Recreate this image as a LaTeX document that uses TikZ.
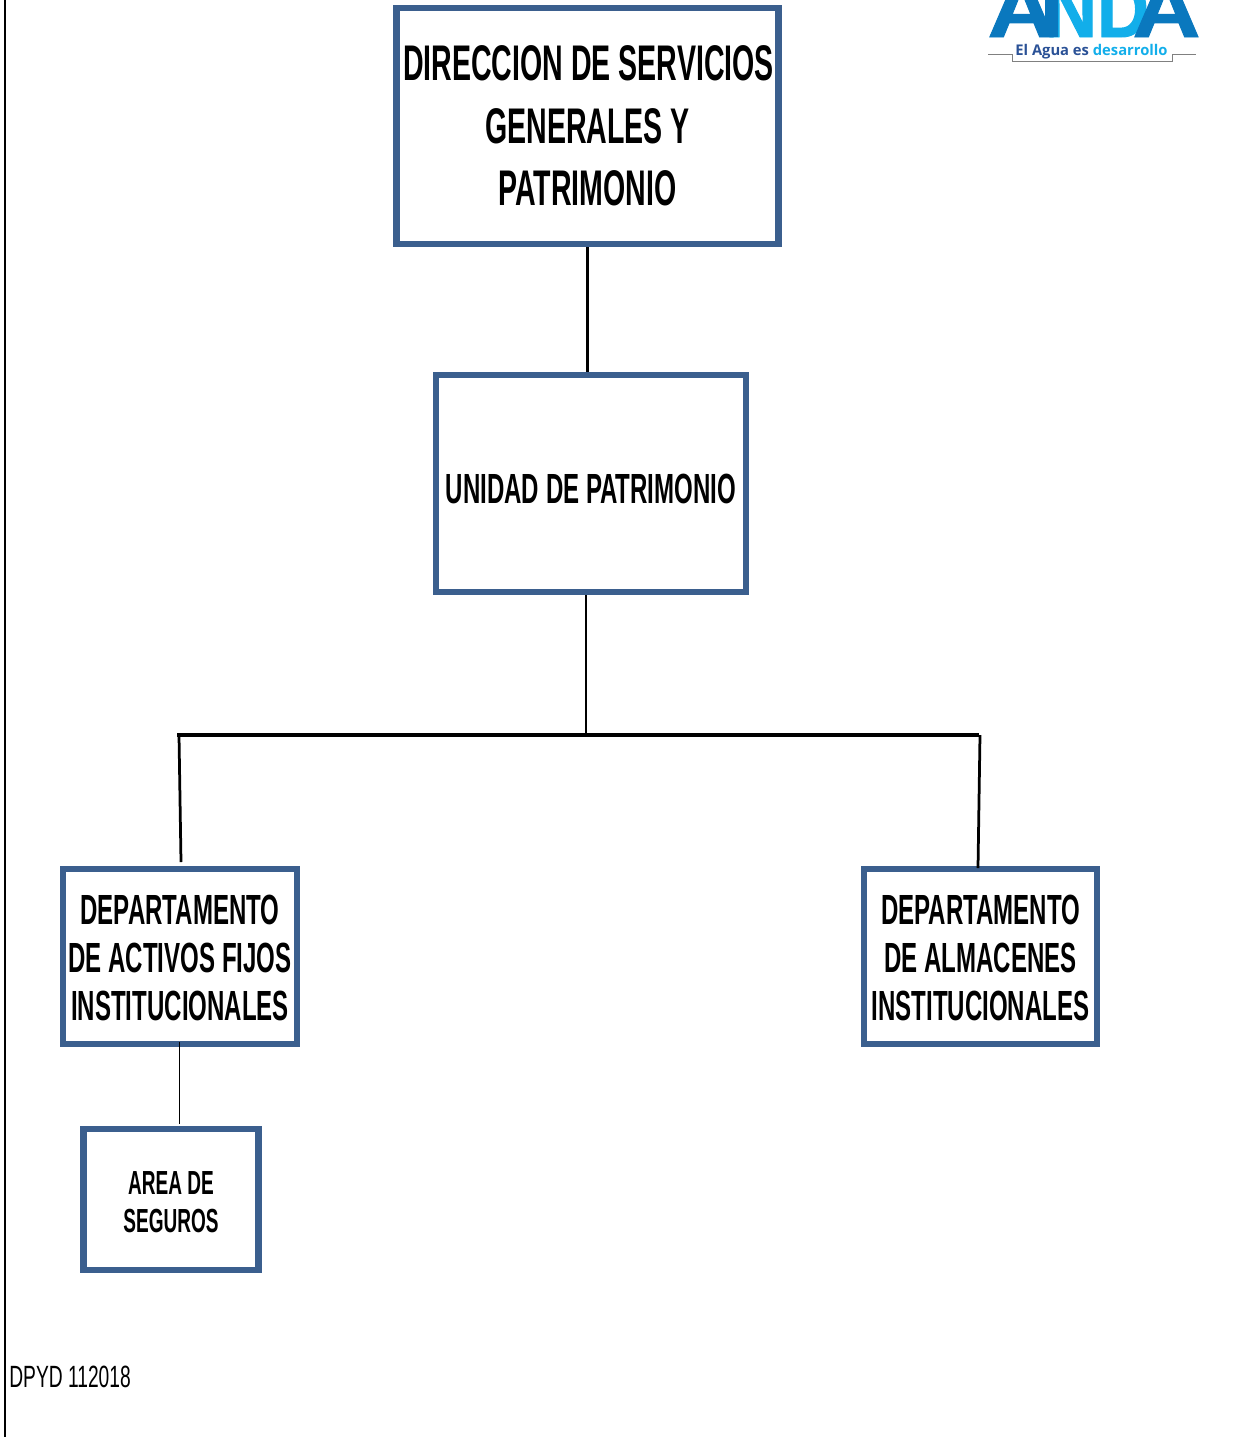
\documentclass[tikz,border=0pt]{standalone}
\usepackage{fontspec}
\setmainfont{Liberation Sans}
\newfontfamily\narrowfont[FakeStretch=0.57]{Liberation Sans}
\newfontfamily\codefont[FakeStretch=0.625]{Liberation Sans}
\newfontfamily\logofont[FakeStretch=1.18,FakeBold=1.2]{Liberation Sans}
\newfontfamily\logonarrow[FakeStretch=.9,FakeBold=1.2]{Liberation Sans}
\definecolor{boxblue}{HTML}{3B5F8E}
\definecolor{logodark}{HTML}{0A78BE}
\definecolor{logolight}{HTML}{12AEEA}
\definecolor{logonavy}{HTML}{2A5196}
\tikzset{
	orgbox/.style={draw=boxblue,line width=.13cm,inner sep=0pt,align=center,font=\narrowfont\bfseries},
	orgline/.style={draw=black,line width=.055cm},
	logoletter/.style={inner sep=0pt,anchor=base,font=\logofont\bfseries\fontsize{45.5}{45.5}\selectfont},
}
\begin{document}
\begin{tikzpicture}
	\useasboundingbox (0,0) rectangle (25,-28.74);
	\draw[line width=.05cm] (.1,0) -- (.1,-28.74);
	% boxes
	\node[orgbox,minimum width=7.64cm,minimum height=4.72cm,font=\narrowfont\bfseries\fontsize{28.5}{35.6}\selectfont] (dir) at (11.75,-2.52) {\hspace{.04cm}DIRECCION DE SERVICIOS\\GENERALES Y\\PATRIMONIO};
	\node[orgbox,minimum width=6.2cm,minimum height=4.34cm,font=\narrowfont\bfseries\fontsize{24}{27.5}\selectfont] (unit) at (11.82,-9.67) {\rule{0pt}{23pt}UNIDAD DE PATRIMONIO};
	\node[orgbox,minimum width=4.68cm,minimum height=3.5cm,font=\narrowfont\bfseries\fontsize{24}{27.5}\selectfont] (activos) at (3.6,-19.13) {\rule{0pt}{18.5pt}DEPARTAMENTO\\DE ACTIVOS FIJOS\\INSTITUCIONALES};
	\node[orgbox,minimum width=4.66cm,minimum height=3.5cm,font=\narrowfont\bfseries\fontsize{24}{27.5}\selectfont] (almacenes) at (19.61,-19.13) {\rule{0pt}{18.5pt}DEPARTAMENTO\\DE ALMACENES\\INSTITUCIONALES};
	\node[orgbox,minimum width=3.5cm,minimum height=2.82cm,font=\narrowfont\bfseries\fontsize{19}{22}\selectfont] (seguros) at (3.42,-23.99) {\rule{0pt}{16pt}AREA DE\\SEGUROS};
	\node[inner sep=0pt,anchor=west,font=\codefont\fontsize{17.5}{20}\selectfont] (code) at (.18,-27.54) {DPYD 112018};
	% connectors
	\coordinate (bar) at (11.72,-14.7);
	\coordinate (barl) at (3.54,-14.7);
	\coordinate (barr) at (19.58,-14.7);
	\coordinate (dropl) at (3.62,-17.24);
	\coordinate (dropr) at (19.56,-17.36);
	\coordinate (sega) at (3.58,-20.84);
	\coordinate (segb) at (3.58,-22.48);
	\draw[orgline] (dir.south) -- (dir.south |- unit.north);
	\draw[orgline] (bar |- unit.south) -- (bar);
	\draw[orgline,line width=.09cm] (barl) -- (barr);
	\draw[orgline] (3.58,-14.7) -- (dropl);
	\draw[orgline] (19.6,-14.7) -- (dropr);
	\draw[line width=.02cm] (sega) -- (segb);
	% logo
	\node[logoletter,text=logolight,font=\logonarrow\bfseries\fontsize{45.5}{45.5}\selectfont] (n) at (21.42,-.74) {N};
	\node[logoletter,text=logolight,font=\logonarrow\bfseries\fontsize{45.5}{45.5}\selectfont] (d) at (22.46,-.74) {D};
	\node[logoletter,text=logodark] (a1) at (20.43,-.74) {A};
	\node[logoletter,text=logodark] (a2) at (23.33,-.74) {A};
	\fill[logodark] (20.9,0) rectangle (21.16,-.74);
	\node[inner sep=0pt,font=\fontspec{Open Sans}\bfseries\fontsize{8.4}{10}\selectfont] (slogan) at (21.83,-1.03) {\textcolor{logonavy}{El Agua es} \textcolor{logolight}{desarrollo}};
	\draw[gray,line width=.02cm] (19.76,-1.08) -- (20.24,-1.08) -- (20.24,-1.22) -- (23.44,-1.22) -- (23.44,-1.08) -- (23.92,-1.08);
\end{tikzpicture}
\end{document}
